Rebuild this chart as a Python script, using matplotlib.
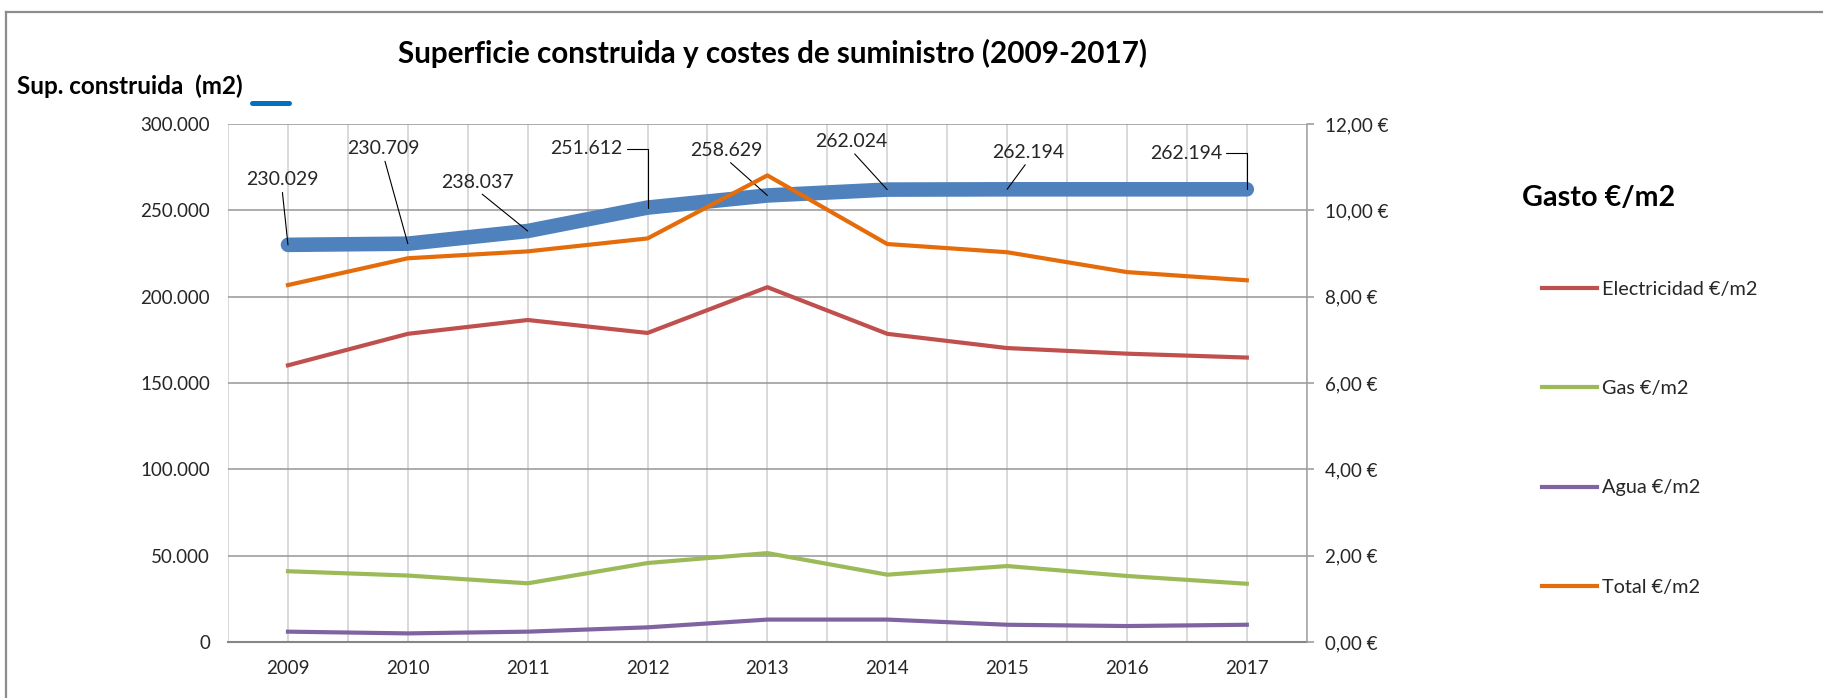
import numpy as np
import matplotlib.pyplot as plt
from matplotlib.lines import Line2D
from matplotlib.ticker import FuncFormatter, MultipleLocator

plt.rcParams['font.family'] = ['Lato', 'DejaVu Sans']

# Datos
years = ['2009', '2010', '2011', '2012', '2013', '2014', '2015', '2016', '2017']
superficie = [230029, 230709, 238037, 251612, 258629, 262024, 262194, 262194, 262194]
electricidad = [6.41, 7.14, 7.46, 7.16, 8.22, 7.14, 6.81, 6.68, 6.59]
gas = [1.64, 1.54, 1.36, 1.83, 2.06, 1.56, 1.76, 1.53, 1.35]
agua = [0.24, 0.20, 0.24, 0.34, 0.52, 0.52, 0.40, 0.37, 0.40]
total = [8.27, 8.89, 9.05, 9.35, 10.81, 9.22, 9.03, 8.57, 8.38]

# etiquetas de superficie (2016 sin etiqueta)
etiquetas = ['230.029', '230.709', '238.037', '251.612', '258.629', '262.024', '262.194', None, '262.194']
desplaz = [(-6, 65), (-24, 95), (-50, 49), (-61, 59), (-41, 45), (-36, 48), (21, 37), None, (-61, 36)]
codo = [False, False, False, True, False, False, False, False, True]

x = np.arange(len(years))

fig = plt.figure(figsize=(18.23, 6.98), dpi=100)
ax1 = fig.add_axes([0.1251, 0.0802, 0.5917, 0.7421])
ax2 = ax1.twinx()

ax1.plot(x, superficie, color='#4F81BD', lw=10.5, solid_capstyle='round', zorder=3)

l_elec, = ax2.plot(x, electricidad, color='#C0504D', lw=3, label='Electricidad €/m2')
l_gas, = ax2.plot(x, gas, color='#9BBB59', lw=3, label='Gas €/m2')
l_agua, = ax2.plot(x, agua, color='#8064A2', lw=3, label='Agua €/m2')
l_total, = ax2.plot(x, total, color='#E46C0A', lw=3, label='Total €/m2')

# etiquetas con líneas guía
for i, txt in enumerate(etiquetas):
    if txt is None:
        continue
    if codo[i]:
        props = dict(arrowstyle='-', color='black', lw=0.8, shrinkA=1, shrinkB=0,
                     relpos=(1, 0.5), connectionstyle='angle,angleA=0,angleB=90,rad=0')
    else:
        props = dict(arrowstyle='-', color='black', lw=0.8, shrinkA=1, shrinkB=0,
                     relpos=(0.5, 0))
    ax1.annotate(txt, (x[i], superficie[i]), xytext=desplaz[i], textcoords='offset pixels',
                 ha='center', va='center', fontsize=14, color='#262626',
                 arrowprops=props, zorder=4)

# ejes
ax1.set_xlim(-0.5, len(years) - 0.5)
ax1.set_ylim(0, 300000)
ax2.set_ylim(0, 12)
ax1.yaxis.set_major_locator(MultipleLocator(50000))
ax2.yaxis.set_major_locator(MultipleLocator(2))
ax1.yaxis.set_major_formatter(FuncFormatter(lambda v, p: f"{int(v):,}".replace(',', '.')))
ax2.yaxis.set_major_formatter(FuncFormatter(lambda v, p: f"{v:.2f}".replace('.', ',') + ' €'))
ax1.set_xticks(x)
ax1.set_xticklabels(years)
ax1.set_xticks(np.arange(-0.5, len(years), 0.5), minor=True)

ax1.grid(axis='y', color='#969696', lw=1.1)
ax1.grid(axis='x', which='both', color='#d0d0d0', lw=1.1)
ax1.set_axisbelow(True)

ax1.tick_params(axis='y', length=0, pad=13, labelsize=13.5, labelcolor='#262626')
ax1.tick_params(axis='x', which='both', length=0, pad=13, labelsize=13.5, labelcolor='#262626')
ax2.tick_params(axis='y', length=5, width=1.1, color='#969696', pad=8, labelsize=13.5, labelcolor='#262626')

for s in ['top', 'left']:
    ax1.spines[s].set_visible(False)
    ax2.spines[s].set_visible(False)
ax1.spines['right'].set_visible(False)
ax2.spines['bottom'].set_visible(False)
ax1.spines['bottom'].set_color('#868686')
ax1.spines['bottom'].set_linewidth(1.5)
ax2.spines['right'].set_color('#a0a0a0')
ax2.spines['right'].set_linewidth(1.1)

# textos
fig.text(773 / 1823, 0.924, 'Superficie construida y costes de suministro (2009-2017)',
         ha='center', va='center', fontsize=21.3, fontweight='bold')
fig.text(0.0093, 0.876, 'Sup. construida  (m2)', ha='left', va='center',
         fontsize=17.5, fontweight='bold')
fig.add_artist(Line2D([252 / 1823, 289 / 1823], [0.8524, 0.8524], color='#0070C0',
                      lw=3.6, solid_capstyle='round', transform=fig.transFigure))
fig.text(1521.7 / 1823, 1 - 198 / 698, 'Gasto €/m2', ha='left', va='center',
         fontsize=20.7, fontweight='bold')

leg = fig.legend(handles=[l_elec, l_gas, l_agua, l_total], loc='upper left',
                 bbox_to_anchor=(1541.7 / 1823, 0.5974), frameon=False, fontsize=14.3,
                 borderpad=0, borderaxespad=0, handlelength=2.77, handletextpad=0.25,
                 labelspacing=4.14)
for t in leg.get_texts():
    t.set_color('#262626')

# marco del gráfico
fig.add_artist(Line2D([5.5 / 1823, 5.5 / 1823], [0, 1 - 11.7 / 698], color='#8c8c8c',
                      lw=1.6, transform=fig.transFigure))
fig.add_artist(Line2D([5.5 / 1823, 1], [1 - 11.7 / 698, 1 - 11.7 / 698], color='#8c8c8c',
                      lw=1.6, transform=fig.transFigure))

fig.savefig('out.png', dpi=100)
